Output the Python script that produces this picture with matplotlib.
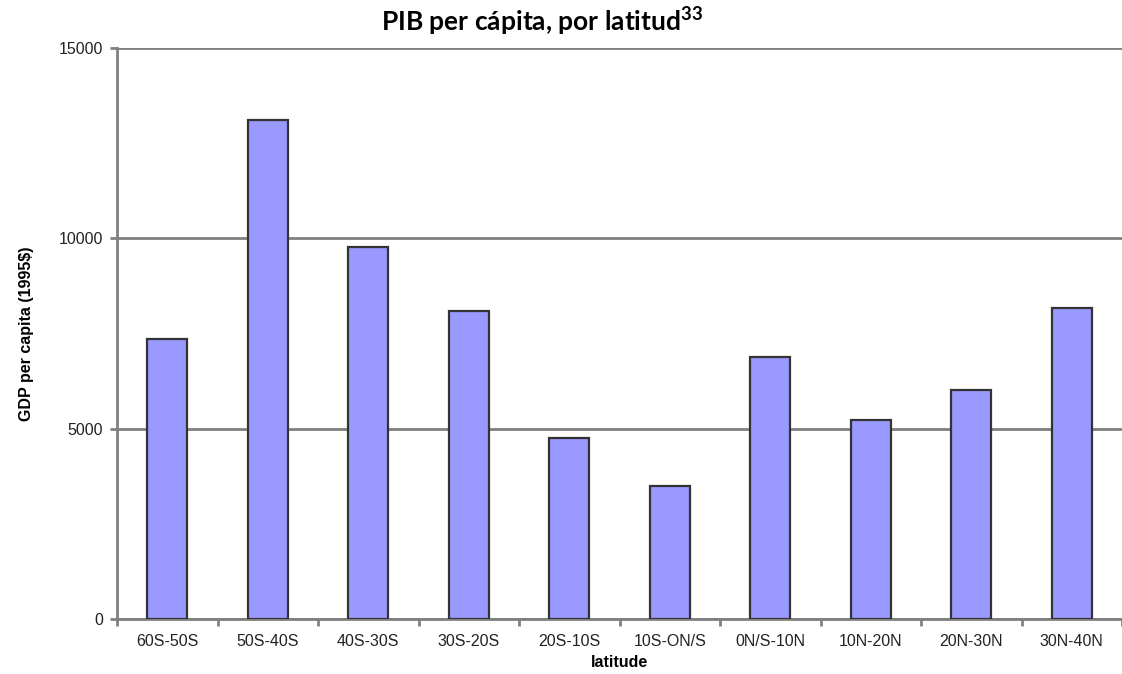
import matplotlib
matplotlib.use("Agg")
from matplotlib import pyplot as plt
import numpy as np

# data
latitudes = ["60S-50S", "50S-40S", "40S-30S", "30S-20S", "20S-10S",
             "10S-ON/S", "0N/S-10N", "10N-20N", "20N-30N", "30N-40N"]
gdp_pc = [7350, 13100, 9780, 8090, 4750, 3500, 6880, 5230, 6010, 8180]
y_ticks = [0, 5000, 10000, 15000]

plt.rcParams['font.family'] = ['Liberation Sans', 'DejaVu Sans']
plt.rcParams['mathtext.fontset'] = 'custom'
plt.rcParams['mathtext.bf'] = 'Lato:bold'
plt.rcParams['mathtext.rm'] = 'Lato:bold'

fig = plt.figure(figsize=(11.22, 6.74), dpi=100)
ax = fig.add_axes([117/1122, 1 - 619/674, 1 - 117/1122, (619 - 48)/674])

x = np.arange(len(latitudes))
ax.bar(x, gdp_pc, width=0.4, color="#9999ff", edgecolor="#333333",
       linewidth=1.6, zorder=3)

ax.set_xlim(-0.5, len(latitudes) - 0.5)
ax.set_ylim(0, 15000)
ax.set_yticks(y_ticks)
ax.set_yticklabels([str(v) for v in y_ticks], fontsize=11.5, color="#222222")
ax.yaxis.grid(True, color="#808080", linewidth=2, zorder=0)

# category labels centred, tick marks between categories
ax.set_xticks(x)
ax.set_xticklabels(latitudes, fontsize=11.5, color="#222222")
ax.tick_params(axis='x', which='major', length=0, pad=11)
ax.set_xticks(np.arange(-0.5, len(latitudes)), minor=True)
ax.tick_params(axis='x', which='minor', length=5, width=2, color="#808080")
ax.tick_params(axis='y', length=5, width=2, color="#808080", pad=5)

for side in ['top', 'right']:
    ax.spines[side].set_visible(False)
for side in ['left', 'bottom']:
    ax.spines[side].set_color("#808080")
    ax.spines[side].set_linewidth(2)

ax.set_xlabel("latitude", fontsize=11.5, fontweight='bold', labelpad=4)
ax.set_ylabel("GDP per capita (1995$)", fontsize=11.5, fontweight='bold', labelpad=18)

fig.text(542/1122, 1 - 21/674, "PIB per cápita, por latitud$^{33}$",
         family=['Lato', 'DejaVu Sans'], fontweight='bold', fontsize=19,
         ha='center', va='center')

fig.savefig("out.png", dpi=100)
